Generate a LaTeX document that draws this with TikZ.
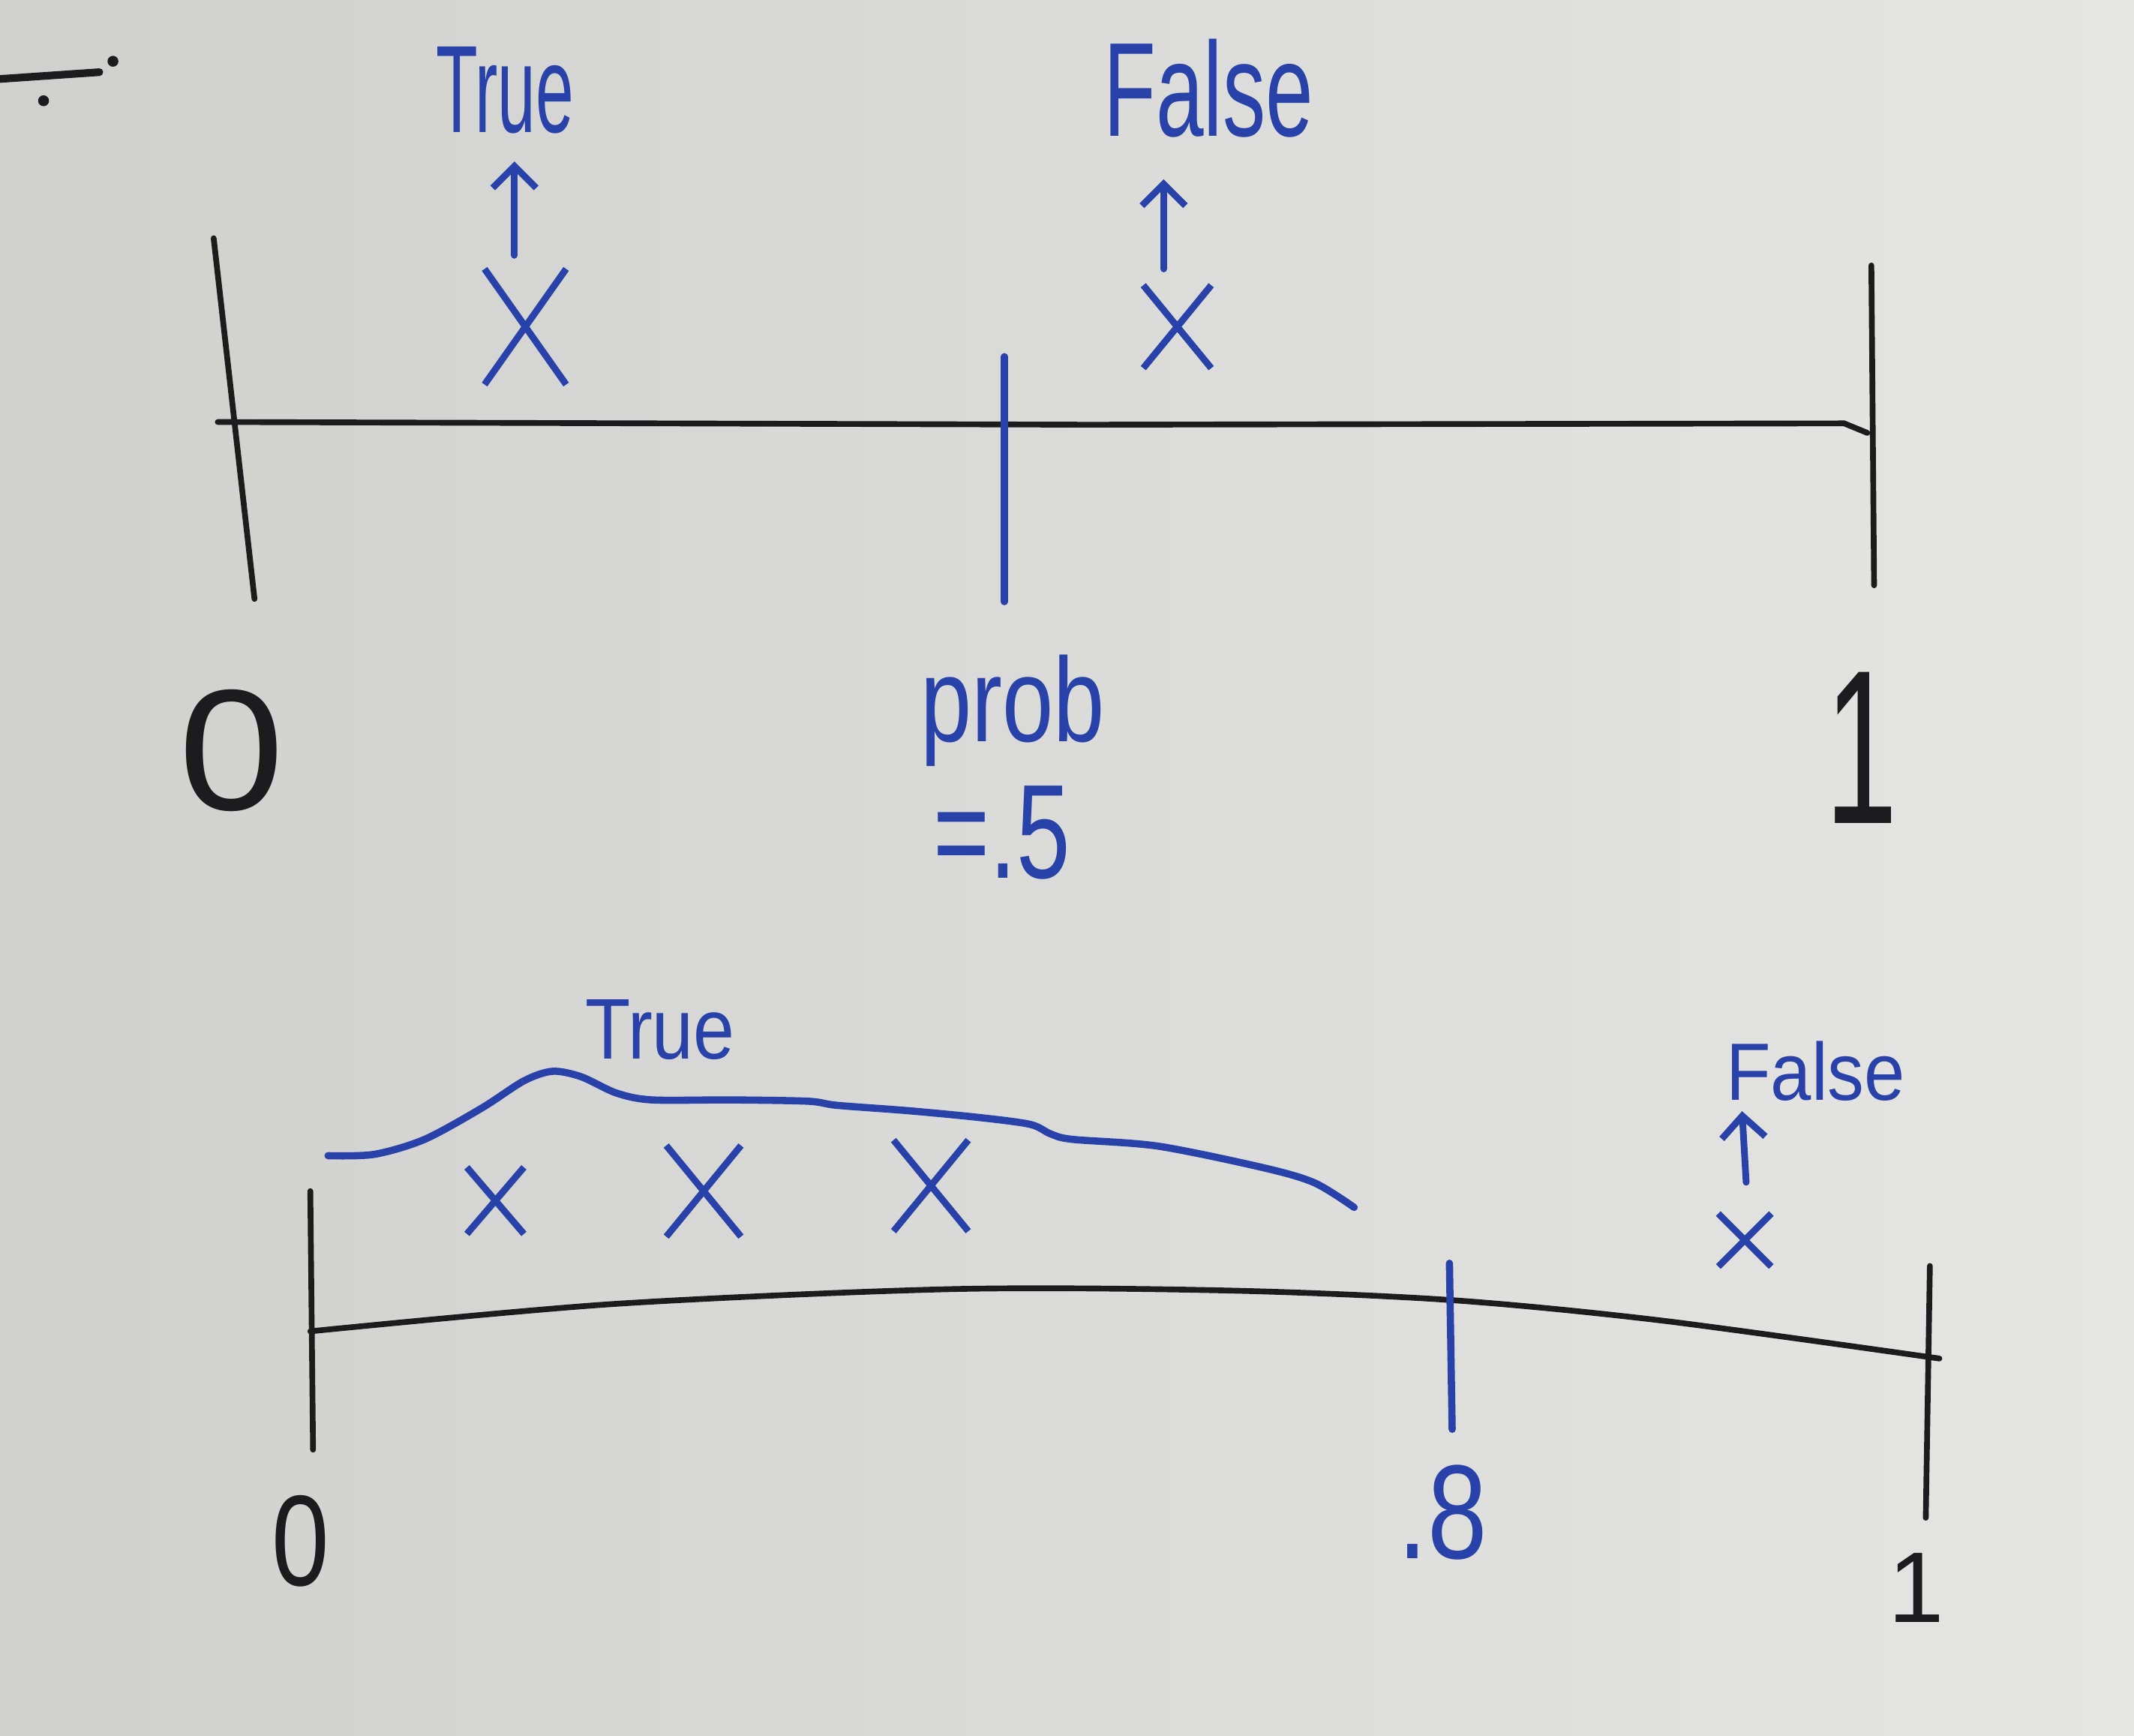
\documentclass[tikz,border=0pt]{standalone}
\usepackage{fontspec}
\setmainfont{Liberation Sans}
\usetikzlibrary{arrows.meta,shapes.misc}
\definecolor{board}{RGB}{208,208,206}
\definecolor{boardlight}{RGB}{229,229,227}
\definecolor{marker}{RGB}{40,66,170}
\definecolor{pen}{RGB}{28,28,30}
\begin{document}
\begin{tikzpicture}[x=1cm,y=-1cm,
    every node/.style={inner sep=0,text=marker},
    axis/.style={draw=pen,line width=1.2pt,line cap=round},
    cut/.style={draw=marker,line width=1.5pt,line cap=round},
    hw/.style={font=\fontsize{#1}{#1}\selectfont},
    xmark/.style={cross out,draw=marker,line width=1.4pt},
    pointer/.style={draw=marker,line width=1.4pt,line cap=round,-{Straight Barb[length=1.6mm,width=3.2mm]}}]
    \shade[left color=board,right color=boardlight] (0,0) rectangle (15.68,12.75);
    \useasboundingbox (0,0) rectangle (15.68,12.75);
    \draw[axis,line width=1.6pt] (0,0.58) -- (0.73,0.53);
    \fill[pen] (0.83,0.45) circle (0.04) (0.32,0.74) circle (0.04);

    % prob = .5
    \draw[axis] (1.57,1.75) -- (1.87,4.40);
    \draw[axis] (1.60,3.10) -- (8.0,3.12) -- (13.55,3.11) -- (13.72,3.18);
    \draw[axis] (13.75,1.95) -- (13.77,4.30);
    \draw[cut] (7.38,2.62) -- (7.38,4.42);
        \node[xmark,minimum width=5.5mm,minimum height=8mm] (xa) at (3.86,2.40) {};
        \path (xa) ++(-0.15,-1.43)
              node[anchor=base,hw=26,xscale=.55] (truea) {True};
        \node[xmark,minimum width=4.5mm,minimum height=5.6mm] (xb) at (8.65,2.40) {};
        \path (xb) ++(0.23,-1.40)
              node[anchor=base,hw=28,xscale=.64] (falsea) {False};
    \draw[pointer] ([xshift=-0.8mm,yshift=1mm]xa.north) -- ([xshift=-0.8mm,yshift=-2mm]xa.north |- truea.south);
    \draw[pointer] ([xshift=-1mm,yshift=1.2mm]xb.north) -- ([xshift=-1mm,yshift=-3mm]xb.north |- falsea.south);
        \node[anchor=base,hw=36,xscale=1.1,text=pen] (zeroa) at (1.70,5.95) {0};
        \node[anchor=base,hw=34,xscale=.8,yscale=1.35,text=pen] (onea) at (13.68,6.05) {1};
        \node[anchor=base,hw=25,xscale=.77] (prob) at (7.44,5.45) {prob};
        \node[anchor=base,hw=28,xscale=.72] (half) at (7.36,6.45) {=.5};

    % prob = .8
    \draw[axis] (2.28,8.75) -- (2.30,10.65);
    \draw[axis] plot[smooth] coordinates {(2.28,9.78) (4.5,9.58) (7.0,9.47) (9.0,9.48) (10.65,9.55) (12.2,9.70) (14.25,9.98)};
    \draw[axis] (14.18,9.30) -- (14.15,11.15);
    \draw[cut] (10.65,9.28) -- (10.67,10.50);
    \draw[cut] plot[smooth,tension=.5] coordinates {(2.41,8.49) (2.75,8.48) (3.12,8.37) (3.54,8.14) (3.85,7.94) (4.06,7.87) (4.27,7.91) (4.53,8.03) (4.79,8.08) (5.37,8.08) (5.94,8.09) (6.15,8.12) (6.68,8.16) (7.20,8.21) (7.57,8.26) (7.72,8.33) (7.88,8.37) (8.51,8.42) (9.29,8.58) (9.66,8.69) (9.95,8.87)};
        \node[anchor=base,hw=18,xscale=.86] (trueb) at (4.85,7.78) {True};
        \node[xmark,minimum width=3.7mm,minimum height=4.4mm] (xc1) at (3.64,8.82) {};
        \node[xmark,minimum width=5mm,minimum height=6.2mm] (xc2) at (5.17,8.75) {};
        \node[xmark,minimum width=5mm,minimum height=6.2mm] (xc3) at (6.84,8.71) {};
        \node[xmark,minimum width=3.4mm,minimum height=3.4mm] (xd) at (12.82,9.11) {};
        \path (xd) ++(0.52,-1.03)
              node[anchor=base,hw=17,xscale=.9] (falseb) {False};
    \draw[pointer] ([xshift=0.1mm,yshift=2.3mm]xd.north) -- ([xshift=-0.2mm,yshift=-0.7mm]xd.north |- falseb.south);
        \node[anchor=base,hw=27,xscale=.8,text=pen] (zerob) at (2.21,11.65) {0};
        \node[anchor=base,hw=21,text=pen] (oneb) at (14.08,11.92) {1};
        \node[anchor=base,hw=28,xscale=.8] (eight) at (10.60,11.45) {.8};
\end{tikzpicture}
\end{document}
